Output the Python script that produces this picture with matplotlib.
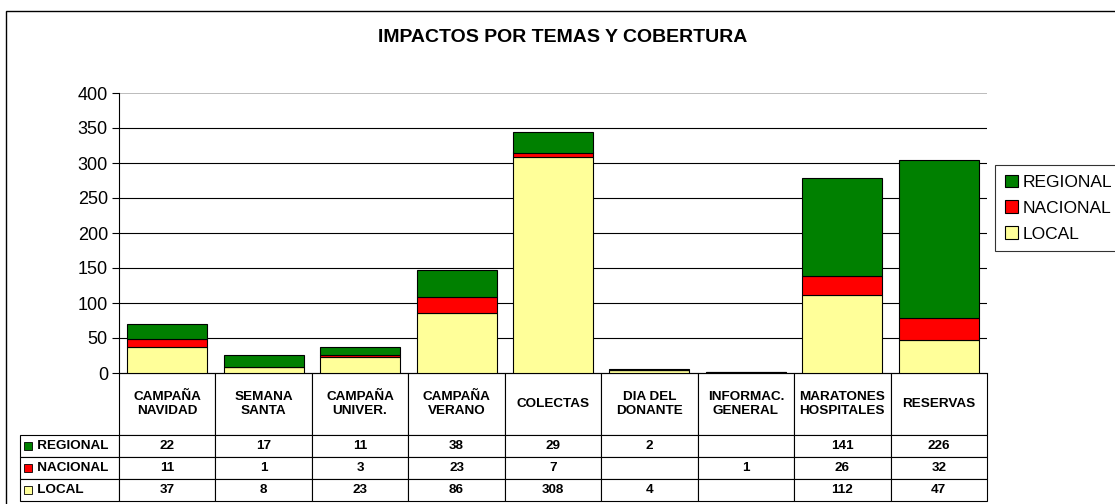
import numpy as np
import matplotlib
matplotlib.use("Agg")
import matplotlib.pyplot as plt
from matplotlib.patches import Rectangle
from matplotlib.table import Table

plt.rcParams["font.family"] = ["Liberation Sans", "DejaVu Sans"]

# Data
categories = ["CAMPAÑA\nNAVIDAD", "SEMANA\nSANTA", "CAMPAÑA\nUNIVER.", "CAMPAÑA\nVERANO",
              "COLECTAS", "DIA DEL\nDONANTE", "INFORMAC.\nGENERAL", "MARATONES\nHOSPITALES",
              "RESERVAS"]
regional = [22, 17, 11, 38, 29, 2, None, 141, 226]
nacional = [11, 1, 3, 23, 7, None, 1, 26, 32]
local = [37, 8, 23, 86, 308, 4, None, 112, 47]
series_names = ["REGIONAL", "NACIONAL", "LOCAL"]
series_colors = ["#008000", "#FF0000", "#FFFF99"]
yticks = [0, 50, 100, 150, 200, 250, 300, 350, 400]

W, H = 1115, 504
fig = plt.figure(figsize=(W / 100, H / 100), dpi=100)

# plot area in pixels of the reference
px_l, px_r, px_t, px_b = 119, 987, 93, 373
ax = fig.add_axes([px_l / W, 1 - px_b / H, (px_r - px_l) / W, (px_b - px_t) / H])


def num(v):
    return np.array([0 if x is None else x for x in v], dtype=float)


loc_v, nac_v, reg_v = num(local), num(nacional), num(regional)
x = np.arange(len(categories))
bw = 0.83
ax.bar(x, loc_v, bw, color=series_colors[2], edgecolor="black", linewidth=0.8,
       label="LOCAL", zorder=3)
ax.bar(x, nac_v, bw, bottom=loc_v, color=series_colors[1], edgecolor="black",
       linewidth=0.8, label="NACIONAL", zorder=3)
ax.bar(x, reg_v, bw, bottom=loc_v + nac_v, color=series_colors[0], edgecolor="black",
       linewidth=0.8, label="REGIONAL", zorder=3)

ax.set_xlim(-0.5, len(categories) - 0.5)
ax.set_ylim(0, 400)
ax.set_yticks(yticks)
ax.tick_params(axis="y", direction="out", length=5, width=0.8, labelsize=13, pad=3)
ax.set_xticks([])
for s in ["top", "right"]:
    ax.spines[s].set_visible(False)
ax.spines["left"].set_linewidth(0.8)
ax.spines["bottom"].set_linewidth(0.8)
for t in yticks[1:-1]:
    ax.axhline(t, color="black", linewidth=0.8, zorder=1)
ax.axhline(400, color="#b0b0b0", linewidth=1.2, zorder=1)

# data table under the plot (built cell by cell)
ax_w = px_r - px_l
ax_h = px_b - px_t
label_w = 99
col_w = ax_w / len(categories)
head_h, row_h = 62, 22
rows = [regional, nacional, local]
tbl_h = head_h + 3 * row_h
tbl = Table(ax, bbox=[-label_w / ax_w, -tbl_h / ax_h, 1 + label_w / ax_w, tbl_h / ax_h])
fs = 9.7
corner = tbl.add_cell(0, 0, label_w, head_h, text="", facecolor="none")
corner.visible_edges = ""
for j, cat in enumerate(categories):
    tbl.add_cell(0, j + 1, col_w, head_h, text=cat, loc="center", facecolor="white")
for i, (name, vals) in enumerate(zip(series_names, rows)):
    tbl.add_cell(i + 1, 0, label_w, row_h, text="   " + name, loc="left", facecolor="white")
    for j, v in enumerate(vals):
        tbl.add_cell(i + 1, j + 1, col_w, row_h, text="" if v is None else str(v),
                     loc="center", facecolor="white")
tbl.auto_set_font_size(False)
tbl.set_fontsize(fs)
for (r, c), cell in tbl.get_celld().items():
    cell.set_linewidth(0.8)
    cell.set_edgecolor("black")
    cell.get_text().set_fontweight("bold")
    if c == 0:
        cell.PAD = 0.06
ax.add_table(tbl)

# colour keys in the row labels
sq = 8
for i, col in enumerate(series_colors):
    yc = -(head_h + row_h * i + row_h / 2)
    ax.add_patch(Rectangle(((-label_w + 4) / ax_w, (yc - sq / 2) / ax_h), sq / ax_w, sq / ax_h,
                           transform=ax.transAxes, facecolor=col, edgecolor="black",
                           linewidth=0.6, clip_on=False, zorder=5))

# legend on the right
handles, labels = ax.get_legend_handles_labels()
leg = fig.legend(handles[::-1], labels[::-1], loc="upper left",
                 bbox_to_anchor=(995 / W, 1 - 165 / H), frameon=True, fancybox=False,
                 fontsize=12.5, handlelength=0.75, handleheight=0.75, handletextpad=0.3,
                 borderpad=0.55, labelspacing=0.6, borderaxespad=0)
leg.get_frame().set_edgecolor("black")
leg.get_frame().set_linewidth(0.8)

fig.text(563 / W, 1 - 38 / H, "IMPACTOS POR TEMAS Y COBERTURA", ha="center", va="center",
         fontsize=14, fontweight="bold")

# outer chart border
fig.patches.append(Rectangle((6 / W, -0.1), 1.2, 1 - 11 / H + 0.1, transform=fig.transFigure,
                             fill=False, edgecolor="black", linewidth=1.0))

fig.savefig("out.png", dpi=100)
